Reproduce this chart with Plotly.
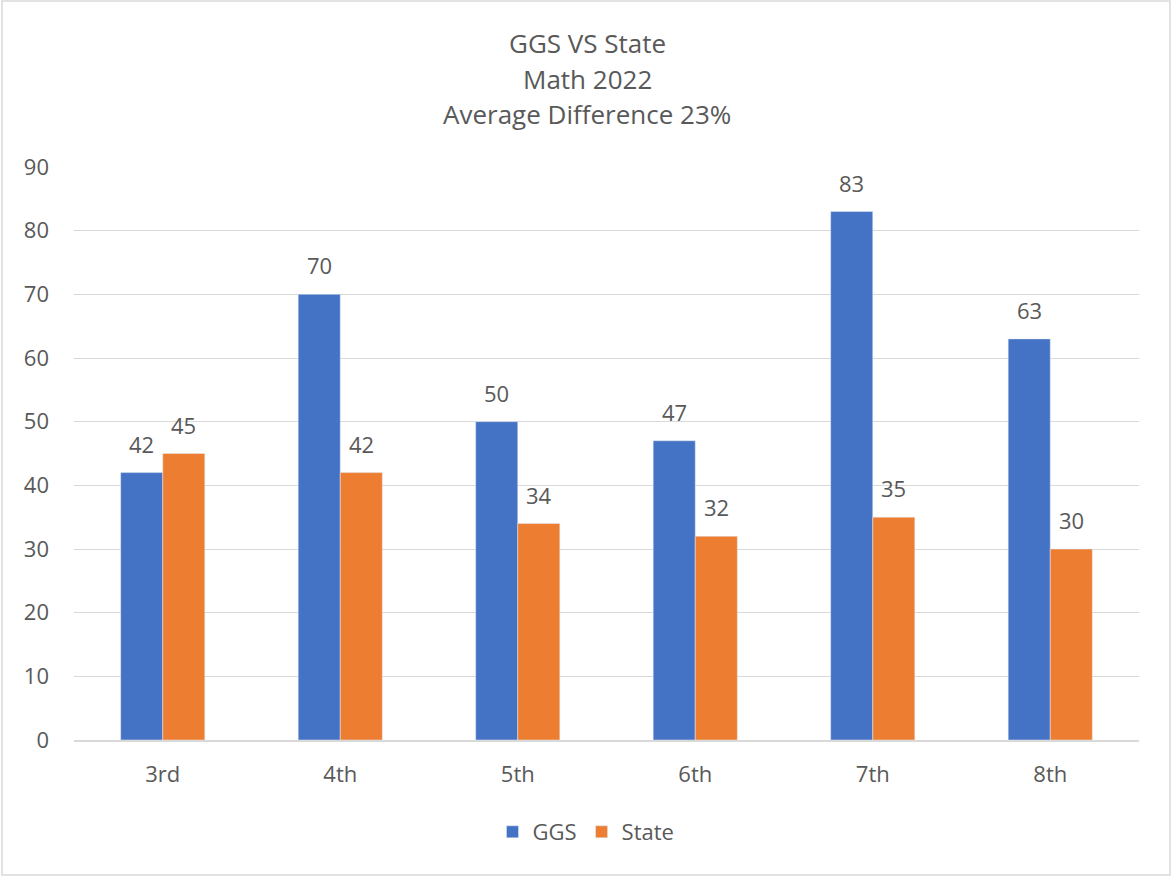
import plotly.graph_objects as go

grades = ["3rd", "4th", "5th", "6th", "7th", "8th"]
ggs = [42, 70, 50, 47, 83, 63]
state = [45, 42, 34, 32, 35, 30]
title_lines = ["GGS VS State", "Math 2022", "Average Difference 23%"]

BLUE = "#4472C4"
ORANGE = "#ED7D31"
TEXT = "#595959"
GRID = "#D9D9D9"
FONT = "Open Sans, Noto Sans, sans-serif"

fig = go.Figure()
fig.add_trace(go.Bar(name="GGS", x=grades, y=ggs, marker_color=BLUE))
fig.add_trace(go.Bar(name="State", x=grades, y=state, marker_color=ORANGE))

annotations = []
# value labels above each bar
for series, shift in ((ggs, -21), (state, 21)):
    for g, v in zip(grades, series):
        annotations.append(dict(
            x=g, y=v, xref="x", yref="y", text=str(v), showarrow=False,
            xshift=shift, yshift=29, yanchor="middle",
            font=dict(family=FONT, size=22, color=TEXT)))

# three-line chart title
for i, line in enumerate(title_lines):
    annotations.append(dict(
        x=587, y=43 + 35.5 * i, xref="paper", yref="paper", text=line,
        showarrow=False, xanchor="center", yanchor="middle",
        font=dict(family=FONT, size=26, color=TEXT)))

L, R, T, B = 74, 1139, 167, 740
W, H = 1172, 877


def px_x(p):
    return (p - L) / (R - L)


def px_y(p):
    return (B - p) / (B - T)


for a in annotations:
    if a["xref"] == "paper":
        a["x"] = px_x(a["x"])
        a["y"] = px_y(a["y"])

fig.update_layout(
    width=W, height=H,
    margin=dict(l=L, r=W - R, t=T, b=H - B, pad=0),
    paper_bgcolor="white", plot_bgcolor="white",
    barmode="group", bargap=0.526, bargroupgap=0,
    font=dict(family=FONT, size=22, color=TEXT),
    showlegend=True,
    legend=dict(orientation="h", x=px_x(586), xanchor="center",
                y=px_y(832), yanchor="middle",
                font=dict(family=FONT, size=22, color=TEXT),
                itemwidth=30, traceorder="normal"),
    annotations=annotations,
    shapes=[dict(type="rect", xref="paper", yref="paper",
                 x0=px_x(2), x1=px_x(1170), y0=px_y(875), y1=px_y(1),
                 line=dict(color=GRID, width=1.5), layer="below")],
)
fig.update_yaxes(range=[0, 90], dtick=10, showgrid=True, gridcolor=GRID,
                 gridwidth=1, zeroline=False, showline=False,
                 ticks="", ticklabelstandoff=24,
                 tickfont=dict(family=FONT, size=22, color=TEXT),
                 fixedrange=True)
fig.update_xaxes(showline=True, linecolor=GRID, linewidth=1.5, ticks="",
                 ticklabelstandoff=14,
                 tickfont=dict(family=FONT, size=22, color=TEXT))

fig.write_html("out.html")
